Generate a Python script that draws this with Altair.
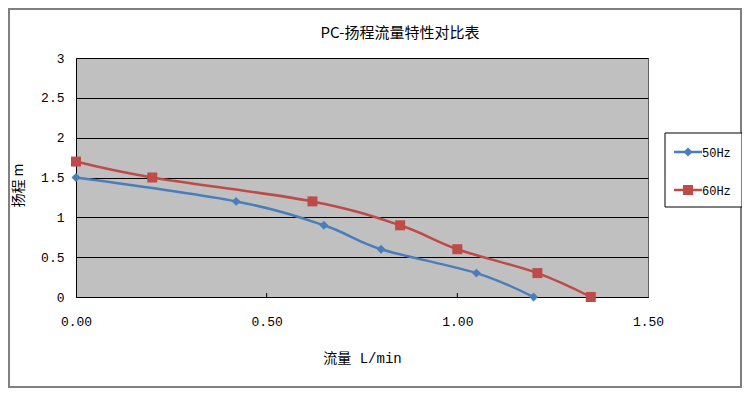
import altair as alt
import pandas as pd

# ---- data ----
series = ["50Hz", "60Hz"]
flow_50 = [0.00, 0.42, 0.65, 0.80, 1.05, 1.20]
head_50 = [1.5, 1.2, 0.9, 0.6, 0.3, 0.0]
flow_60 = [0.00, 0.20, 0.62, 0.85, 1.00, 1.21, 1.35]
head_60 = [1.7, 1.5, 1.2, 0.9, 0.6, 0.3, 0.0]
x_ticks = [0.0, 0.5, 1.0, 1.5]
y_ticks = [0, 0.5, 1, 1.5, 2, 2.5, 3]
title_text = "PC-扬程流量特性对比表"
x_title = "流量 L/min"
y_title = "扬程 m"

colors = ["#4A7EBB", "#BE4B48"]
shapes = ["diamond", "square"]
sizes = [80, 100]

rows = []
for name, xs, ys in [("50Hz", flow_50, head_50), ("60Hz", flow_60, head_60)]:
    for i, (a, b) in enumerate(zip(xs, ys)):
        rows.append({"series": name, "flow": a, "head": b, "idx": i})
df = pd.DataFrame(rows)

MONO = "Liberation Mono, Noto Sans CJK SC"
CJK = "Noto Sans CJK SC"

xs = alt.Scale(domain=[0, 1.5], nice=False, zero=False)
ys = alt.Scale(domain=[0, 3], nice=False)
cs = alt.Scale(domain=series, range=colors)

x_axis = alt.Axis(title=x_title, values=x_ticks, format=".2f", grid=False,
                  ticks=False, domainColor="#000", labelFont=MONO,
                  labelFlush=False, labelOverlap=False,
                  labelFontSize=13, labelPadding=18, labelColor="#000",
                  titleFont=MONO, titleFontSize=14, titleFontWeight="normal",
                  titleColor="#000", titlePadding=23)
y_axis = alt.Axis(title=y_title, values=y_ticks, format="~g", grid=True,
                  gridColor="#000", gridWidth=1, ticks=False,
                  labelFlush=False, labelOverlap=False,
                  domainColor="#000", labelFont=MONO, labelFontSize=13,
                  labelPadding=12, labelColor="#000",
                  titleFont=CJK, titleFontSize=14, titleFontWeight="normal",
                  titleColor="#000", titleX=-58, titleY=127,
                  titleAlign="center", titleBaseline="middle")
x_enc = alt.X("flow:Q", scale=xs, axis=x_axis, title=x_title)
y_enc = alt.Y("head:Q", scale=ys, axis=y_axis, title=y_title)

base = alt.Chart(df)
lines = base.mark_line(strokeWidth=2.5, interpolate="cardinal").encode(
    x=x_enc, y=y_enc,
    color=alt.Color("series:N", scale=cs, legend=None),
    order="idx:Q",
)
points = base.mark_point(filled=True, opacity=1).encode(
    x=x_enc, y=y_enc,
    color=alt.Color("series:N", scale=cs, legend=None),
    shape=alt.Shape("series:N", scale=alt.Scale(domain=series, range=shapes), legend=None),
    size=alt.Size("series:N", scale=alt.Scale(domain=series, range=sizes), legend=None),
)

# small inside tick marks on the x axis
tick_df = pd.DataFrame({"flow": x_ticks[1:3], "head": [0, 0], "head2": [0.05, 0.05]})
xticks = alt.Chart(tick_df).mark_rule(color="#000", strokeWidth=1).encode(
    x=x_enc, y=y_enc, y2="head2:Q")

one = pd.DataFrame({"a": [0]})
frame = alt.Chart(one).mark_rect(filled=False, stroke="#808080", strokeWidth=2).encode(
    x=alt.value(-67), x2=alt.value(665), y=alt.value(-49), y2=alt.value(329))

title = alt.Chart(one).mark_text(text=title_text, align="center", baseline="middle",
                                 font=CJK, fontSize=15, color="#000").encode(
    x=alt.value(324), y=alt.value(-25))

legend_layers = [
    alt.Chart(one).mark_rect(fill="white", stroke="#000", strokeWidth=1).encode(
        x=alt.value(589), x2=alt.value(666), y=alt.value(75), y2=alt.value(149))
]
for i, name in enumerate(series):
    yy = 94 + 38 * i
    legend_layers.append(alt.Chart(one).mark_rule(color=colors[i], strokeWidth=2.5).encode(
        x=alt.value(598), x2=alt.value(626), y=alt.value(yy)))
    legend_layers.append(alt.Chart(one).mark_point(filled=True, opacity=1, color=colors[i],
                                                   shape=shapes[i], size=sizes[i]).encode(
        x=alt.value(612), y=alt.value(yy)))
    legend_layers.append(alt.Chart(one).mark_text(text=name, align="left", baseline="middle",
                                                  font=MONO, fontSize=12, color="#000").encode(
        x=alt.value(626), y=alt.value(yy + 1)))

chart = alt.layer(lines, points, xticks, frame, title, *legend_layers).properties(
    width=572, height=239,
    background="white",
    autosize=alt.AutoSizeParams(type="none"),
    padding={"left": 68, "top": 50, "right": 94, "bottom": 91},
).configure_view(fill="#C0C0C0", stroke="#606060", strokeWidth=1)

chart.save("out.html", embed_options={"renderer": "svg", "actions": False})
